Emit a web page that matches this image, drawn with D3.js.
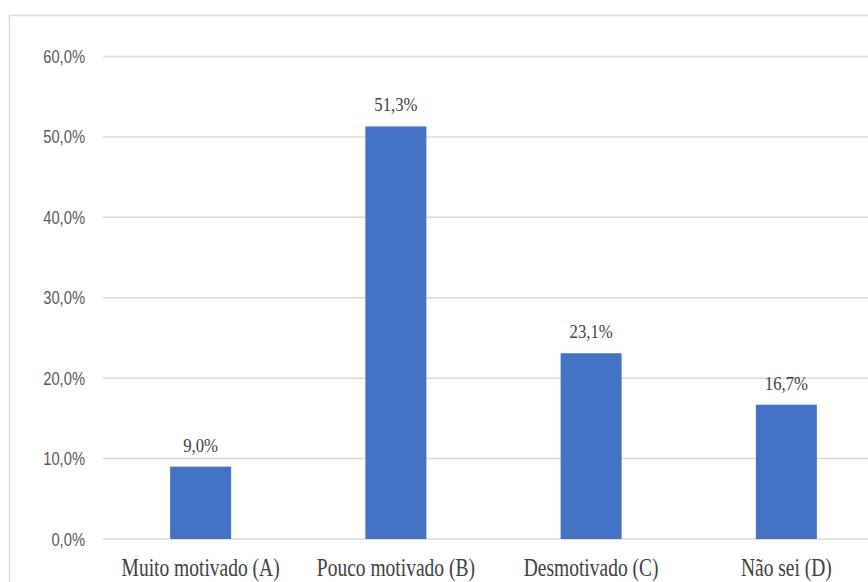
<!DOCTYPE html>
<html>
<head>
<meta charset="utf-8">
<script src="https://cdn.jsdelivr.net/npm/d3@7"></script>
<style>
  html, body { margin: 0; padding: 0; background: #fff; overflow: hidden; }
</style>
</head>
<body>
<script>
const categories = ["Muito motivado (A)", "Pouco motivado (B)", "Desmotivado (C)", "Não sei (D)"];
const values = [9.0, 51.3, 23.1, 16.7];
const valueLabels = ["9,0%", "51,3%", "23,1%", "16,7%"];
const yTicks = [0, 10, 20, 30, 40, 50, 60];
const yTickLabels = ["0,0%", "10,0%", "20,0%", "30,0%", "40,0%", "50,0%", "60,0%"];

const W = 868, H = 582;
const svg = d3.select("body").append("svg").attr("width", W).attr("height", H);

// chart frame (extends beyond visible area)
svg.append("rect").attr("x", 9.5).attr("y", 15.5).attr("width", 1000).attr("height", 1000)
  .attr("fill", "none").attr("stroke", "#d9d9d9").attr("stroke-width", 1.5);

const y = d3.scaleLinear().domain([0, 60]).range([539, 56.5]);
const x = d3.scaleBand().domain(categories).range([103, 884]).paddingInner(0.6876).paddingOuter(0.3438);

// gridlines
svg.append("g").selectAll("line").data(yTicks).join("line")
  .attr("x1", 103).attr("x2", W)
  .attr("y1", d => y(d)).attr("y2", d => y(d))
  .attr("stroke", "#d9d9d9").attr("stroke-width", 1.5);

// y tick labels
svg.append("g").selectAll("text").data(yTicks).join("text")
  .attr("transform", d => `translate(85,${y(d) + 6.5}) scale(0.82,1)`)
  .attr("text-anchor", "end")
  .attr("font-family", "'Liberation Sans', Arial, sans-serif")
  .attr("font-size", 18)
  .attr("fill", "#595959")
  .text((d, i) => yTickLabels[i]);

// bars
svg.append("g").selectAll("rect").data(values).join("rect")
  .attr("x", (d, i) => x(categories[i]))
  .attr("width", x.bandwidth())
  .attr("y", d => y(d))
  .attr("height", d => y(0) - y(d))
  .attr("fill", "#4472c4");

// data labels
svg.append("g").selectAll("text").data(values).join("text")
  .attr("transform", (d, i) => `translate(${x(categories[i]) + x.bandwidth() / 2},${y(d) - 15}) scale(0.88,1)`)
  .attr("text-anchor", "middle")
  .attr("font-family", "'Liberation Serif', 'Times New Roman', serif")
  .attr("font-size", 19)
  .attr("fill", "#404040")
  .text((d, i) => valueLabels[i]);

// category labels
svg.append("g").selectAll("text").data(categories).join("text")
  .attr("transform", d => `translate(${x(d) + x.bandwidth() / 2},576) scale(0.78,1)`)
  .attr("text-anchor", "middle")
  .attr("font-family", "'Liberation Serif', 'Times New Roman', serif")
  .attr("font-size", 25)
  .attr("fill", "#404040")
  .text(d => d);
</script>
</body>
</html>
